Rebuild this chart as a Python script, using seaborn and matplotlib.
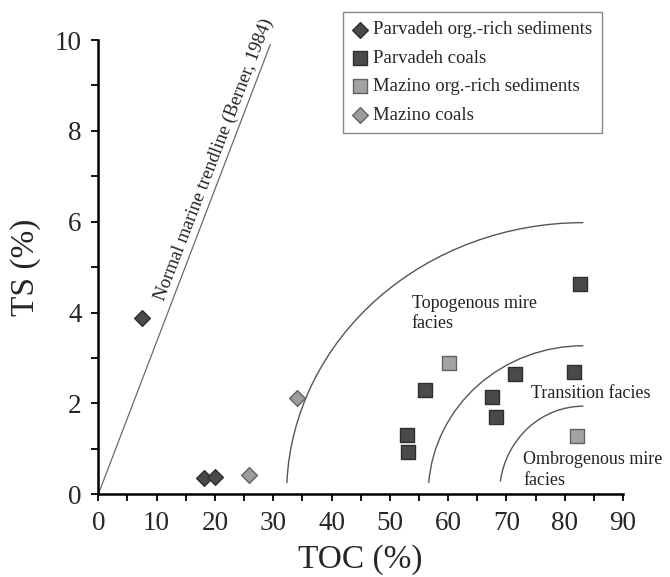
import numpy as np
import pandas as pd
import matplotlib
matplotlib.use("Agg")
import matplotlib.pyplot as plt
from matplotlib.patches import Arc
from matplotlib.ticker import MultipleLocator
import seaborn as sns

# ---- data ----
parv_sed_toc = [7.5, 18.1, 20.0]
parv_sed_ts = [3.87, 0.36, 0.38]
parv_coal_toc = [82.6, 56.1, 53.0, 53.1, 71.4, 67.5, 68.2, 81.6]
parv_coal_ts = [4.64, 2.30, 1.31, 0.93, 2.65, 2.15, 1.71, 2.69]
maz_sed_toc = [60.2, 82.1]
maz_sed_ts = [2.90, 1.29]
maz_coal_toc = [25.9, 34.0]
maz_coal_ts = [0.43, 2.13]

group_names = ["Parvadeh org.-rich sediments", "Parvadeh coals",
               "Mazino org.-rich sediments", "Mazino coals"]

# normal marine trendline end points (TOC, TS)
trend_toc = [0.0, 29.5]
trend_ts = [0.0, 9.9]

# facies boundaries: quarter-ellipse arcs (centre TOC, centre TS, half-width, half-height, lowest TS)
boundary_cx = [83.2, 83.2, 83.2]
boundary_cy = [0.0, 0.0, 0.0]
boundary_a = [50.9, 26.6, 14.4]
boundary_b = [5.98, 3.27, 1.94]
boundary_ymin = [0.25, 0.25, 0.28]

facies_labels = ["Topogenous mire\nfacies", "Transition facies", "Ombrogenous mire\nfacies"]
facies_x = [53.75, 74.3, 72.9]
facies_y = [3.98, 2.21, 0.53]

x_ticks = [0, 10, 20, 30, 40, 50, 60, 70, 80, 90]
y_ticks = [0, 2, 4, 6, 8, 10]

df = pd.DataFrame({
    "TOC": parv_sed_toc + parv_coal_toc + maz_sed_toc + maz_coal_toc,
    "TS": parv_sed_ts + parv_coal_ts + maz_sed_ts + maz_coal_ts,
    "group": [group_names[0]] * len(parv_sed_toc) + [group_names[1]] * len(parv_coal_toc)
             + [group_names[2]] * len(maz_sed_toc) + [group_names[3]] * len(maz_coal_toc),
})

sns.set_style("ticks")
plt.rcParams["font.family"] = ["Liberation Serif", "DejaVu Serif"]

fig = plt.figure(figsize=(6.7, 5.77), dpi=100)
ax = fig.add_axes([98.3 / 670, 1 - 494.3 / 577, (623 - 98.3) / 670, (494.3 - 40) / 577])

styles = {
    group_names[0]: dict(marker="D", color="#4a4a4a", edgecolor="#2e2e2e", s=64),
    group_names[1]: dict(marker="s", color="#4a4a4a", edgecolor="#2e2e2e", s=100),
    group_names[2]: dict(marker="s", color="#a3a3a3", edgecolor="#626262", s=100),
    group_names[3]: dict(marker="D", color="#9c9c9c", edgecolor="#626262", s=64),
}

handles = []
for g in group_names:
    st = styles[g]
    sub = df[df["group"] == g]
    sns.scatterplot(data=sub, x="TOC", y="TS", ax=ax, marker=st["marker"],
                    color=st["color"], edgecolor=st["edgecolor"], linewidth=1.0,
                    s=st["s"], label=g, zorder=3, legend=False)
    handles.append(ax.collections[-1])

# trendline
ax.plot(trend_toc, trend_ts, color="#6a6a6a", lw=0.9, zorder=2)
ax.text(19.8, 7.36, "Normal marine trendline (Berner, 1984)", rotation=68.9,
        rotation_mode="anchor", ha="center", va="center", fontsize=13.5, color="#222222")

# facies boundaries
for cx, cy, a, b, ymin in zip(boundary_cx, boundary_cy, boundary_a, boundary_b, boundary_ymin):
    x0 = cx - np.sqrt(max(0.0, 1 - ((ymin - cy) / b) ** 2)) * a
    theta1 = 90.0
    theta2 = np.degrees(np.arctan2(ymin - cy, x0 - cx))
    arc = Arc((cx, cy), 2 * a, 2 * b, theta1=theta1, theta2=theta2,
              color="#555555", lw=1.0, zorder=2)
    ax.add_patch(arc)

for lab, fx, fy in zip(facies_labels, facies_x, facies_y):
    ax.text(fx, fy, lab, ha="left", va="center", fontsize=13, color="#222222",
            linespacing=1.3)

ax.set_xlim(0, 90)
ax.set_ylim(0, 10)
ax.set_xticks(x_ticks)
ax.set_yticks(y_ticks)
ax.xaxis.set_minor_locator(MultipleLocator(5))
ax.yaxis.set_minor_locator(MultipleLocator(1))
ax.tick_params(axis="both", which="both", direction="out", length=5, width=1.3, color="black")
ax.tick_params(axis="x", which="major", labelsize=19.5, pad=7)
ax.tick_params(axis="y", which="major", labelsize=19.5, pad=7)
sns.despine(ax=ax)
for sp in ["left", "bottom"]:
    ax.spines[sp].set_linewidth(1.8)
    ax.spines[sp].set_color("black")

ax.set_xlabel("TOC (%)", fontsize=24, labelpad=6)
ax.set_ylabel("TS (%)", fontsize=24, labelpad=10)

leg = ax.legend(handles=handles, labels=group_names, loc="upper left",
                bbox_to_anchor=(343 / 670, 1 - 12 / 577), bbox_transform=fig.transFigure,
                fontsize=13.5, frameon=True, fancybox=False, framealpha=1,
                edgecolor="#888888", borderpad=0.5, handlelength=0.8,
                handletextpad=0.3, labelspacing=0.6, borderaxespad=0)
leg.get_frame().set_linewidth(1.0)

fig.savefig("out.png", dpi=100, facecolor="white")
